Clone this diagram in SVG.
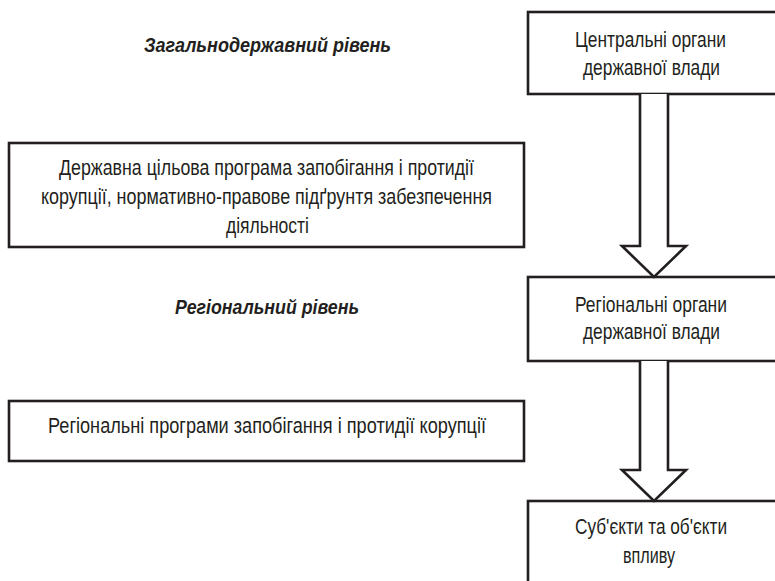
<svg xmlns="http://www.w3.org/2000/svg" width="775" height="581" viewBox="0 0 775 581">
  <style>
    .box { fill: #ffffff; stroke: #231f20; stroke-width: 2.6; }
    .arrow { fill: #ffffff; stroke: #231f20; stroke-width: 2.6; stroke-linejoin: miter; }
    .t { font-family: "Liberation Sans Narrow", "Liberation Sans", Arial, sans-serif; font-size: 22px; fill: #231f20; }
    .lvl { font-family: "Liberation Sans", Arial, sans-serif; font-size: 21px; font-weight: bold; font-style: italic; fill: #231f20; }
  </style>
  <rect width="775" height="581" fill="#ffffff"/>

  <!-- level captions -->
  <g id="level-national">
    <text class="lvl" x="144" y="52" textLength="247" lengthAdjust="spacingAndGlyphs">Загальнодержавний рівень</text>
  </g>
  <g id="level-regional">
    <text class="lvl" x="175" y="314" textLength="184" lengthAdjust="spacingAndGlyphs">Регіональний рівень</text>
  </g>

  <!-- right column: authority chain -->
  <g id="central-authorities">
    <rect class="box" x="528" y="12" width="260" height="82"/>
    <text class="t" x="575" y="47" textLength="151" lengthAdjust="spacingAndGlyphs">Центральні органи</text>
    <text class="t" x="583" y="75" textLength="137" lengthAdjust="spacingAndGlyphs">державної влади</text>
  </g>
  <g id="regional-authorities">
    <rect class="box" x="528" y="277" width="260" height="84"/>
    <text class="t" x="575" y="312" textLength="152" lengthAdjust="spacingAndGlyphs">Регіональні органи</text>
    <text class="t" x="583" y="339" textLength="137" lengthAdjust="spacingAndGlyphs">державної влади</text>
  </g>
  <g id="subjects-objects">
    <rect class="box" x="528" y="501" width="260" height="100"/>
    <text class="t" x="575" y="534" textLength="152" lengthAdjust="spacingAndGlyphs">Суб'єкти та об'єкти</text>
    <text class="t" x="623" y="563" textLength="52" lengthAdjust="spacingAndGlyphs">впливу</text>
  </g>

  <!-- left column: programmes -->
  <g id="state-programme">
    <rect class="box" x="9" y="143" width="515" height="104"/>
    <text class="t" x="59" y="175" textLength="415" lengthAdjust="spacingAndGlyphs">Державна цільова програма запобігання і протидії</text>
    <text class="t" x="41" y="204" textLength="451" lengthAdjust="spacingAndGlyphs">корупції, нормативно-правове підґрунтя забезпечення</text>
    <text class="t" x="226" y="233" textLength="83" lengthAdjust="spacingAndGlyphs">діяльності</text>
  </g>
  <g id="regional-programmes">
    <rect class="box" x="9" y="401" width="515" height="60"/>
    <text class="t" x="48" y="433" textLength="438" lengthAdjust="spacingAndGlyphs">Регіональні програми запобігання і протидії корупції</text>
  </g>

  <!-- block arrows between authority levels -->
  <g id="connectors">
    <path class="arrow" d="M640,94 L640,246 L622,246 L654,277 L686,246 L668,246 L668,94"/>
    <path class="arrow" d="M640,361 L640,470 L622,470 L654,501 L686,470 L668,470 L668,361"/>
  </g>
</svg>
